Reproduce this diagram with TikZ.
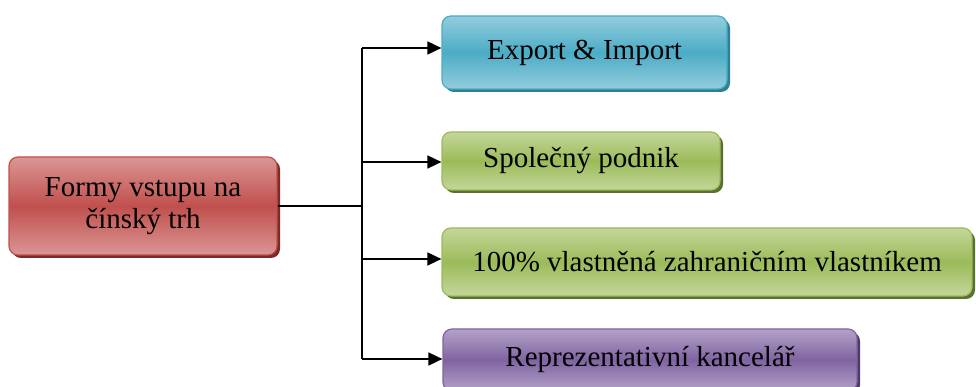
\documentclass[tikz,border=0pt]{standalone}
\usepackage{fontspec}
\setmainfont{Liberation Serif}
\usetikzlibrary{arrows.meta,shadows}
\definecolor{blueM}{HTML}{4BACC6}
\definecolor{blueL}{HTML}{93CDDD}
\definecolor{blueS}{HTML}{2F7F94}
\definecolor{greenM}{HTML}{9BBB59}
\definecolor{greenL}{HTML}{C4D79B}
\definecolor{greenS}{HTML}{5A7030}
\definecolor{purpM}{HTML}{8064A2}
\definecolor{purpL}{HTML}{B3A2C7}
\definecolor{purpS}{HTML}{4F3A66}
\definecolor{redM}{HTML}{C0504D}
\definecolor{redL}{HTML}{DA9694}
\definecolor{redS}{HTML}{7A2A28}
\begin{document}
\begin{tikzpicture}[x=1pt,y=1pt,
  basebox/.style={rounded corners=9pt, line width=1.2pt, inner sep=0pt, align=center,
    font=\fontsize{29}{32}\selectfont},
  bluebox/.style={basebox, draw=blueM, top color=blueL, bottom color=blueL, middle color=blueM,
    general shadow={fill=blueS, shadow xshift=3pt, shadow yshift=-3pt}},
  greenbox/.style={basebox, draw=greenM, top color=greenL, bottom color=greenL, middle color=greenM,
    general shadow={fill=greenS, shadow xshift=3pt, shadow yshift=-3pt}},
  purpbox/.style={basebox, draw=purpM, top color=purpL, bottom color=purpL, middle color=purpM,
    general shadow={fill=purpS, shadow xshift=3pt, shadow yshift=-3pt}},
  redbox/.style={basebox, draw=redM, top color=redL, bottom color=redL, middle color=redM,
    general shadow={fill=redS, shadow xshift=3pt, shadow yshift=-3pt}},
  conn/.style={line width=1.6pt},
  arr/.style={conn, -{Triangle[length=14pt,width=13pt]}}
]
\useasboundingbox (0,0) rectangle (976,387);
\node[redbox, minimum width=268pt, minimum height=98pt] (root) at (143,181)
  {Formy vstupu na\\čínský trh};
\node[bluebox, minimum width=285pt, minimum height=73pt] (exp) at (584.5,334.5) {Export \& Import};
\node[greenbox, minimum width=278pt, minimum height=58pt] (spol) at (581,226) {Společný podnik};
\node[greenbox, minimum width=530pt, minimum height=68pt] (vlast) at (707,125) {100\% vlastněná zahraničním vlastníkem};
\node[purpbox, minimum width=414pt, minimum height=62pt] (repr) at (650,27) {Reprezentativní kancelář};
\coordinate (s1) at (362,339);
\coordinate (s2) at (362,225);
\coordinate (s3) at (362,128);
\coordinate (s4) at (362,28);
\draw[conn] (root.east) -- (root.east -| s1);
\draw[conn] (s1) -- (s4);
\draw[arr] (s1) -- (exp.west |- s1);
\draw[arr] (s2) -- (spol.west |- s2);
\draw[arr] (s3) -- (vlast.west |- s3);
\draw[arr] (s4) -- (repr.west |- s4);
\end{tikzpicture}
\end{document}
